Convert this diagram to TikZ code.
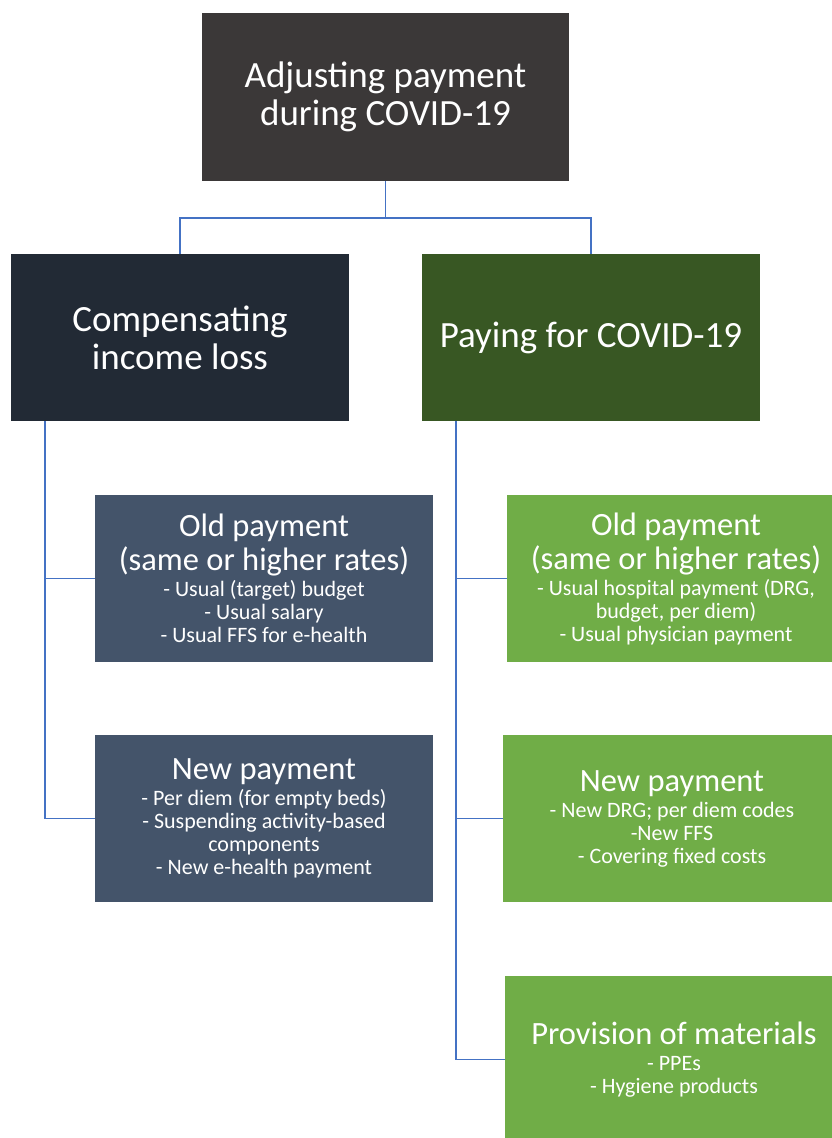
\documentclass[tikz,border=0pt]{standalone}
\usepackage{fontspec}
\setmainfont{Carlito}

\definecolor{topgray}{HTML}{3B3838}
\definecolor{lossnavy}{HTML}{222A35}
\definecolor{covidgreen}{HTML}{385723}
\definecolor{slateblue}{HTML}{44546A}
\definecolor{leafgreen}{HTML}{70AD47}
\definecolor{linkblue}{HTML}{4472C4}

\newcommand{\boxhead}[1]{{\fontsize{32.5}{34}\selectfont\spaceskip=\fontdimen2\font\relax #1\par}\vspace{3pt}}
\newcommand{\boxitems}[1]{{\fontsize{22}{23}\selectfont\spaceskip=\fontdimen2\font\relax #1\par}}

\tikzset{
  bigbox/.style={text=white, inner sep=0pt, align=center,
    minimum width=338pt, minimum height=167pt,
    font=\fontsize{37}{38}\selectfont},
  topbox/.style={bigbox, fill=topgray, minimum width=367pt, minimum height=168pt},
  lossbox/.style={bigbox, fill=lossnavy},
  covidbox/.style={bigbox, fill=covidgreen},
  leafbox/.style={text=white, inner xsep=4pt, inner ysep=0pt, align=center,
    text width=330pt, minimum height=167pt},
  lossleaf/.style={leafbox, fill=slateblue},
  covidleaf/.style={leafbox, fill=leafgreen},
  link/.style={draw=linkblue, line width=1.5pt}
}

\begin{document}
\begin{tikzpicture}[x=1pt, y=-1pt]
  \path[use as bounding box] (0,0) rectangle (832,1138);
  \clip (0,0) rectangle (832,1138);

  \node[topbox]   (top)  at (385.5,97)                      {Adjusting payment\\during COVID-19};
  \node[lossbox]  (comp) at ([shift={(-205.5,240.5)}] top)  {Compensating\\income loss};
  \node[covidbox] (pay)  at ([shift={(411,0)}] comp)        {Paying for COVID-19};

  \node[lossleaf]  (compold) at ([shift={(84,241)}] comp)   {\boxhead{Old payment\\(same or higher rates)}%
    \boxitems{- Usual (target) budget\\- Usual salary\\- Usual FFS for e-health}};
  \node[lossleaf]  (compnew) at ([shift={(0,240)}] compold) {\boxhead{New payment}%
    \boxitems{- Per diem (for empty beds)\\- Suspending activity-based\\components\\- New e-health payment}};

  \node[covidleaf] (payold) at ([shift={(85,241)}] pay)     {\boxhead{Old payment\\(same or higher rates)}%
    \boxitems{- Usual hospital payment (DRG,\\budget, per diem)\\- Usual physician payment}};
  \node[covidleaf] (paynew) at ([shift={(-4,240)}] payold)  {\boxhead{New payment}%
    \boxitems{- New DRG; per diem codes\\-New FFS\\- Covering fixed costs}};
  \node[covidleaf] (paymat) at ([shift={(2,241)}] paynew)   {\boxhead{Provision of materials}%
    \boxitems{- PPEs\\- Hygiene products}};

  % tree links
  \draw[link] (top.south) -- ++(0,37) -| (comp.north);
  \draw[link] (top.south) -- ++(0,37) -| (pay.north);
  \coordinate (comptrunk) at ([shift={(34,0)}] comp.south west);
  \coordinate (paytrunk)  at ([shift={(34,0)}] pay.south west);
  \draw[link] (comptrunk) |- (compold.west);
  \draw[link] (comptrunk) |- (compnew.west);
  \draw[link] (paytrunk) |- (payold.west);
  \draw[link] (paytrunk) |- (paynew.west);
  \draw[link] (paytrunk) |- (paymat.west);
\end{tikzpicture}
\end{document}
